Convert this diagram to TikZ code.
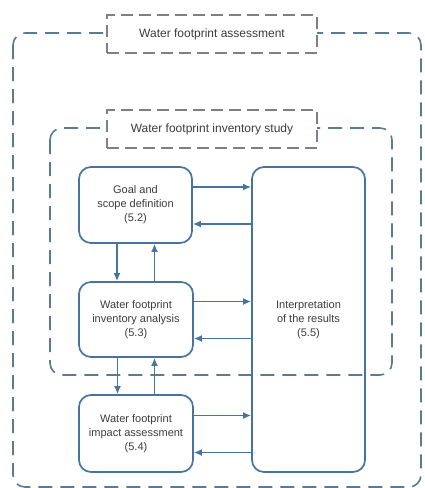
\documentclass[tikz,border=0pt]{standalone}
\usepackage{fontspec}
\setmainfont{Liberation Sans}
\usetikzlibrary{arrows.meta}

\definecolor{boxblue}{RGB}{70,115,160}
\definecolor{areablue}{RGB}{90,122,150}
\definecolor{titlegray}{RGB}{128,128,128}
\definecolor{textgray}{RGB}{60,60,60}

\begin{document}
\begin{tikzpicture}[%
  x=1pt, y=-1pt,
  area/.style  = {draw=areablue, line width=1.6pt, dash pattern=on 14pt off 8pt, rounded corners=12pt},
  title/.style = {draw=titlegray, line width=1.4pt, dash pattern=on 12pt off 6pt, fill=white,
                  minimum width=210pt, minimum height=38pt, text=textgray,
                  font=\fontsize{12}{14}\selectfont},
  stage/.style = {draw=boxblue, line width=1.7pt, rounded corners=12pt, align=center,
                  text=textgray, font=\fontsize{11}{14}\selectfont},
  flow/.style  = {draw=boxblue, line width=1.7pt, ->},
  >={Latex[length=8pt,width=7pt]},
]
  \useasboundingbox (0,0) rectangle (425,488);

  % dashed areas
  \draw[area] (13,33) rectangle (421,487);
  \draw[area] (50,128) rectangle (392,375);

  \node[title] (assess) at (212,34) {Water footprint assessment};
  \node[title] (study)  at (212,129) {Water footprint inventory study};

  % phases
  \node[stage, minimum width=113pt, minimum height=76pt] (goal) at (135.5,205)
    {Goal and\\scope definition\\(5.2)};
  \node[stage, minimum width=114pt, minimum height=75pt] (inv) at (136,319.5)
    {Water footprint\\inventory analysis\\(5.3)};
  \node[stage, minimum width=114pt, minimum height=77pt] (imp) at (136,433.5)
    {Water footprint\\impact assessment\\(5.4)};
  \node[stage, minimum width=113pt, minimum height=305pt] (interp) at (308.5,319.5)
    {Interpretation\\of the results\\(5.5)};

  \foreach \p in {goal,inv,imp} {
    \draw[flow] ([yshift=18pt]\p.east) -- ([yshift=18pt]\p.east -| interp.west);
    \draw[flow] ([yshift=-19pt]\p.east -| interp.west) -- ([yshift=-19pt]\p.east);
  }

  \draw[flow] ([xshift=-18.5pt]goal.south) -- ([xshift=-18.5pt]goal.south |- inv.north);
  \draw[flow] ([xshift=18.5pt]inv.north) -- ([xshift=18.5pt]inv.north |- goal.south);
  \draw[flow] ([xshift=-18.5pt]inv.south) -- ([xshift=-18.5pt]inv.south |- imp.north);
  \draw[flow] ([xshift=18.5pt]imp.north) -- ([xshift=18.5pt]imp.north |- inv.south);

\end{tikzpicture}
\end{document}
